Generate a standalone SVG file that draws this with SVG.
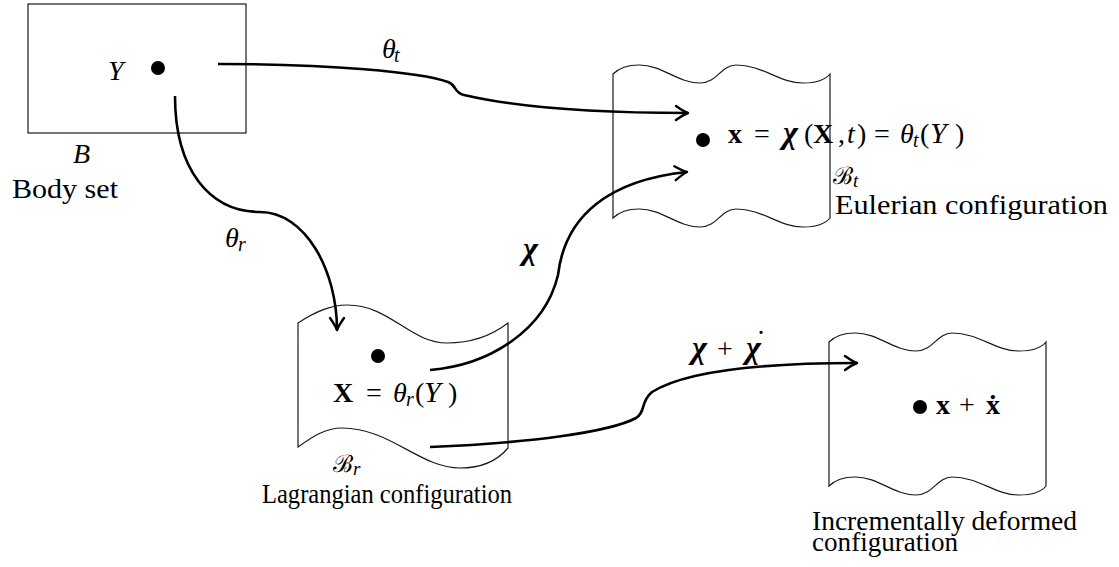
<svg xmlns="http://www.w3.org/2000/svg" width="1119" height="567" viewBox="0 0 1119 567">
<style>
.shape{fill:none;stroke:#1a1a1a;stroke-width:1.2}
.conn{fill:none;stroke:#000;stroke-width:2.6}
.dot{fill:#000}
text{font-family:"Liberation Serif","DejaVu Serif",serif;font-size:28px;fill:#000}
.it{font-style:italic}
.bf{font-weight:bold}
.bi{font-weight:bold;font-style:italic}
.sub{font-size:20px;font-style:italic}
.cal{font-family:"DejaVu Serif","Liberation Serif",serif;font-size:24px}
.csub{font-family:"Liberation Serif",serif;font-size:19px;font-style:italic}
</style>
<defs>
<marker id="ah" viewBox="-15 -9 17 18" refX="0" refY="0" markerWidth="17" markerHeight="18" markerUnits="userSpaceOnUse" orient="auto">
<path d="M-12,-7 C-7,-3.5 -3,-1 0,0 C-3,1 -7,3.5 -12,7" fill="none" stroke="#000" stroke-width="2.4" stroke-linecap="round" stroke-linejoin="round"/>
</marker>
</defs>

<g id="body-set">
<rect class="shape" x="28" y="4" width="218" height="129"/>
<text class="it" x="108" y="80">Y</text>
<circle class="dot" cx="158" cy="68" r="7"/>
<text class="it" x="73" y="163">B</text>
<text x="12" y="198" textLength="106" lengthAdjust="spacingAndGlyphs">Body set</text>
</g>

<g id="eulerian">
<path class="shape" d="M613,74 C619,68 627,65 639,65 C663,65 677,83 700,83 C717,83 721,65 736,65 C763,65 779,83 803,83 C817,83 826,79 830,74 L830,218 C826,223 817,227 803,227 C779,227 763,209 736,209 C721,209 717,227 700,227 C677,227 663,209 639,209 C627,209 619,212 613,218 Z"/>
<circle class="dot" cx="703" cy="140" r="7"/>
<text y="143"><tspan class="bf" x="728">x</tspan><tspan x="754">=</tspan><tspan class="bi" x="783" style="font-size:32px">χ</tspan><tspan x="804">(</tspan><tspan class="bf" x="813">X</tspan><tspan x="838">,</tspan><tspan class="it" x="847">t</tspan><tspan x="857">)</tspan><tspan x="874">=</tspan><tspan class="it" x="900">θ</tspan><tspan class="sub" x="913" dy="4">t</tspan><tspan x="920" dy="-4">(</tspan><tspan class="it" x="930" style="font-size:30px">Y</tspan><tspan x="955">)</tspan></text>
<text class="cal" x="833" y="184">ℬ<tspan class="csub" dy="3">t</tspan></text>
<text x="835" y="214" textLength="273" lengthAdjust="spacingAndGlyphs">Eulerian configuration</text>
</g>

<g id="lagrangian">
<path class="shape" d="M298,323 C315,312 330,305 347,305 C390,305 410,343 447,343 C475,343 495,333 508,323 L508,448 C498,460 482,468 460,468 C420,468 390,428 342,428 C325,428 312,437 298,447 Z"/>
<circle class="dot" cx="378" cy="356" r="7"/>
<text y="402"><tspan class="bf" x="333">X</tspan><tspan x="366">=</tspan><tspan class="it" x="393">θ</tspan><tspan class="sub" x="406" dy="4">r</tspan><tspan x="415" dy="-4">(</tspan><tspan class="it" x="424" style="font-size:30px">Y</tspan><tspan x="448">)</tspan></text>
<text class="cal" x="333" y="472">ℬ<tspan class="csub" dy="3">r</tspan></text>
<text x="262" y="503" textLength="250" lengthAdjust="spacingAndGlyphs">Lagrangian configuration</text>
</g>

<g id="incremental">
<path class="shape" d="M829,342 C835,336 843,333 855,333 C879,333 893,351 916,351 C933,351 937,333 952,333 C979,333 995,351 1019,351 C1033,351 1042,347 1046,342 L1046,486 C1042,491 1033,495 1019,495 C995,495 979,477 952,477 C937,477 933,495 916,495 C893,495 879,477 855,477 C843,477 835,480 829,486 Z"/>
<circle class="dot" cx="920" cy="407" r="7"/>
<text y="414"><tspan class="bf" x="936">x</tspan><tspan x="959">+</tspan><tspan class="bf" x="986">ẋ</tspan></text>
<text x="812" y="530" textLength="265" lengthAdjust="spacingAndGlyphs">Incrementally deformed</text>
<text x="812" y="551" textLength="146" lengthAdjust="spacingAndGlyphs">configuration</text>
</g>

<g id="connectors">
<g id="theta-t">
<path class="conn" marker-end="url(#ah)" d="M218,64 C330,64 420,72 448,82 C457,85 453,92 464,95 C520,108 600,113 688,113"/>
<text class="it" x="382" y="58">θ<tspan class="sub" x="394" dy="4">t</tspan></text>
</g>
<g id="theta-r">
<path class="conn" marker-end="url(#ah)" d="M175,96 C175,170 210,212 260,212 C305,212 337,270 337,330"/>
<text class="it" x="225" y="247">θ<tspan class="sub" x="238" dy="4">r</tspan></text>
</g>
<g id="chi">
<path class="conn" marker-end="url(#ah)" d="M430,370 C490,365 545,330 558,275 C565,215 610,180 687,172"/>
<text class="bi" x="523" y="259" style="font-size:32px">χ</text>
</g>
<g id="chi-plus-chidot">
<path class="conn" marker-end="url(#ah)" d="M430,447 C530,443 610,432 636,418 C646,412 640,402 652,392 C690,368 780,363 857,363"/>
<text y="358" style="font-size:32px"><tspan class="bi" x="692">χ</tspan><tspan x="717" style="font-size:28px">+</tspan><tspan class="bi" x="746">χ</tspan></text>
<text x="761" y="351" text-anchor="middle" style="font-size:30px">˙</text>
</g>
</g>
</svg>
